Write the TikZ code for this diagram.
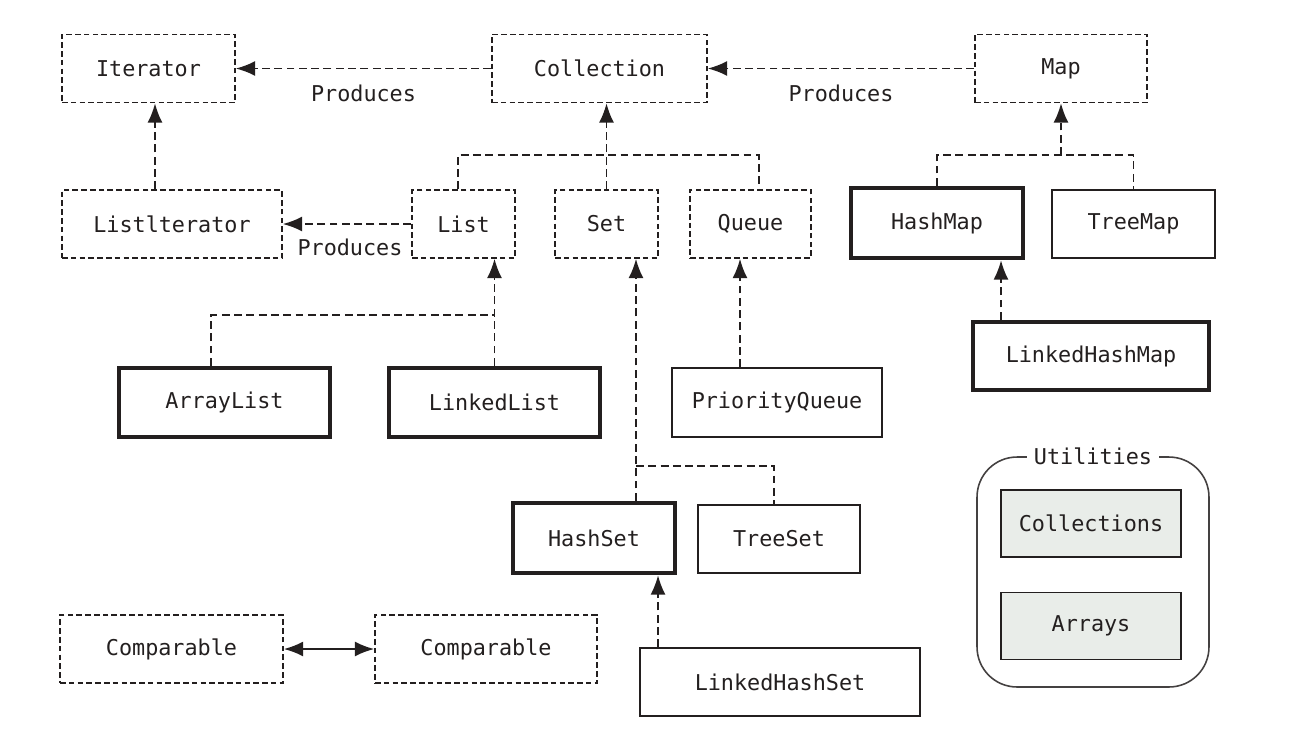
\documentclass[tikz,border=0pt]{standalone}
\usepackage{fontspec}
\setmonofont{DejaVu Sans Mono}
\usetikzlibrary{arrows.meta,positioning}
\definecolor{ink}{RGB}{35,31,31}
\definecolor{utilfill}{RGB}{233,237,233}

\tikzset{
	box/.style={draw=ink, line width=0.9pt, minimum height=1.36cm, text=ink,
		font=\ttfamily\fontsize{12.4}{15}\selectfont},
	iface/.style={box, dash pattern=on 3.2pt off 1.8pt},
	impl/.style={box},
	core/.style={box, line width=2.6pt},
	util/.style={box, fill=utilfill, minimum width=3.6cm, minimum height=1.34cm},
	link/.style={draw=ink, line width=1pt, dash pattern=on 4.5pt off 2.5pt},
	lbl/.style={font=\ttfamily\fontsize{12.4}{15}\selectfont, text=ink}
}

\begin{document}
\begin{tikzpicture}[x=0.02cm,y=-0.02cm,>={Latex[length=11pt,width=8.5pt]}]
	\useasboundingbox (0,0) rectangle (1295,728);
	% interfaces
	\node[iface, minimum width=3.46cm] (iter) at (148.5,68.5) {Iterator};
	\node[iface, minimum width=4.30cm] (coll) at (599.5,68.5) {Collection};
	\node[iface, minimum width=3.44cm] (map) at (1061,68.5) {Map};
	\node[iface, minimum width=4.40cm] (litr) at (172,224) {Listlterator};
	\node[iface, minimum width=2.06cm] (list) at (463.5,224) {List};
	\node[iface, minimum width=2.06cm] (set) at (606.5,224) {Set};
	\node[iface, minimum width=2.42cm] (queue) at (750.5,224) {Queue};
	\node[iface, minimum width=4.46cm] (cmpa) at (171.5,649) {Comparable};
	\node[iface, minimum width=4.44cm] (cmpb) at (486,649) {Comparable};
	% classes
	\node[core, minimum width=3.44cm, minimum height=1.40cm] (hmap) at (937,223) {HashMap};
	\node[impl, minimum width=3.26cm] (tmap) at (1133.5,224) {TreeMap};
	\node[core, minimum width=4.72cm] (lhmap) at (1091,356) {LinkedHashMap};
	\node[core, minimum width=4.22cm, minimum height=1.38cm] (alist) at (224.5,402.5) {ArrayList};
	\node[core, minimum width=4.22cm, minimum height=1.38cm] (llist) at (494.5,402.5) {LinkedList};
	\node[impl, minimum width=4.20cm, minimum height=1.38cm] (pq) at (777,402.5) {PriorityQueue};
	\node[core, minimum width=3.24cm, minimum height=1.40cm] (hset) at (594,538) {HashSet};
	\node[impl, minimum width=3.24cm] (tset) at (779,539) {TreeSet};
	\node[impl, minimum width=5.60cm] (lhset) at (780,682) {LinkedHashSet};
	% utilities
	\node[draw=ink!85, line width=0.9pt, rounded corners=0.8cm, minimum width=4.64cm,
		minimum height=4.60cm] (utils) at (1093,572) {};
	\node[lbl, fill=white, inner xsep=4pt] at (utils.north) {Utilities};
	\node[util] (colls) at (1091,523.5) {Collections};
	\node[util] (arrs) at (1091,626) {Arrays};

	% produces
	\draw[link,->] (coll) -- node[lbl, below=0.19cm] {Produces} (iter);
	\draw[link,->] (map) -- node[lbl, below=0.19cm] {Produces} (coll);
	\draw[link,->] (list) -- node[lbl, below=0.17cm, xshift=0.06cm] {Produces} (litr);
	\draw[link,->] ([xshift=0.13cm]iter.south |- litr.north) -- ([xshift=0.13cm]iter.south);

	% collection hierarchy
	\coordinate (collbus) at (0,155);
	\draw[link] ([xshift=-0.11cm]list.north) |- ([xshift=0.17cm]queue.north |- collbus)
		-- ([xshift=0.17cm]queue.north);
	\draw[link,->] (set.north) -- (set.north |- coll.south);

	\coordinate (mapbus) at (0,155);
	\draw[link] (hmap.north) |- (tmap.north |- mapbus) -- (tmap.north);
	\draw[link,->] (map.south |- mapbus) -- (map.south);
	\draw[link,->] ([xshift=-1.8cm]lhmap.north) -- ([xshift=-1.8cm]lhmap.north |- hmap.south);

	\coordinate (listbus) at (0,315);
	\draw[link] ([xshift=-0.27cm]alist.north) |- (llist.north |- listbus);
	\draw[link,->] (llist.north) -- (llist.north |- list.south);
	\draw[link,->] ([xshift=-0.74cm]pq.north) -- ([xshift=-0.74cm]pq.north |- queue.south);

	\coordinate (setbus) at (0,466);
	\draw[link,->] ([xshift=0.84cm]hset.north) -- ([xshift=0.84cm]hset.north |- set.south);
	\draw[link] ([xshift=0.84cm]hset.north |- setbus) -| ([xshift=-0.1cm]tset.north);
	\draw[link,->] ([xshift=-2.44cm]lhset.north) -- ([xshift=-2.44cm]lhset.north |- hset.south);

	\draw[<->, draw=ink, line width=1.1pt] (cmpa) -- (cmpb);
\end{tikzpicture}
\end{document}
